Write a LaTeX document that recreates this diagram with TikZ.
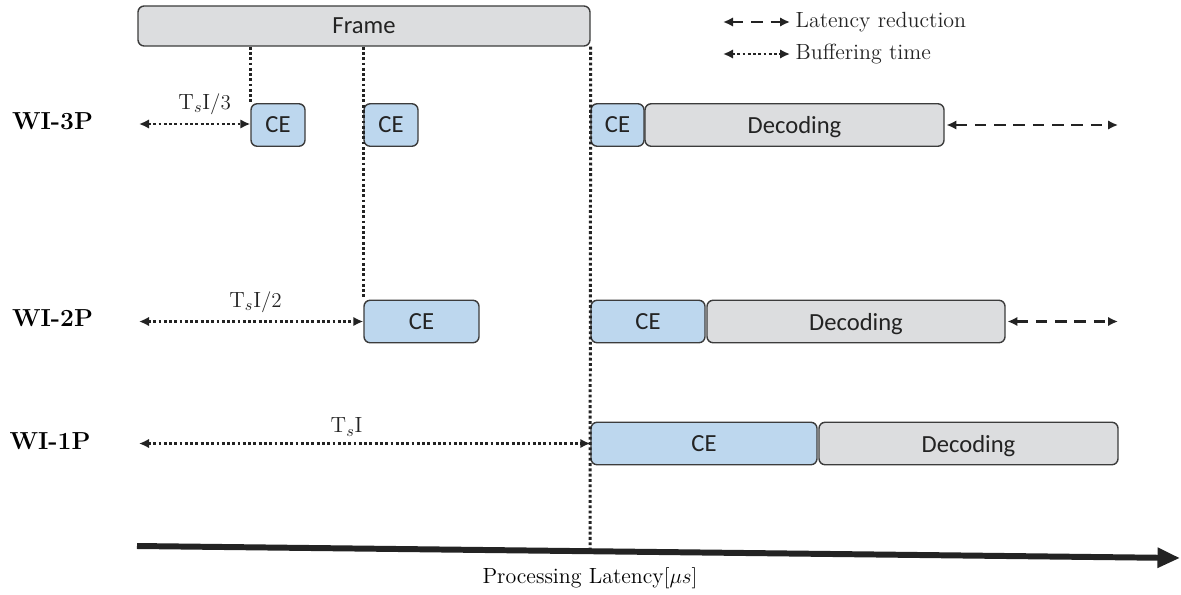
\documentclass[tikz,border=0pt]{standalone}
\usepackage{amsmath}
\usepackage{fontspec}
\newfontfamily\boxfont{Carlito}
\usetikzlibrary{arrows.meta}
\definecolor{cefill}{RGB}{189, 215, 238}
\definecolor{decfill}{RGB}{220, 221, 223}
\definecolor{edge}{RGB}{60, 60, 60}
\definecolor{ink}{RGB}{35, 35, 35}

\begin{document}
\begin{tikzpicture}[
	>={Latex[length=2mm, width=1.9mm]},
	% Styles for the processing blocks
	frameblock/.style={draw=edge, thick, fill=decfill, rounded corners=3.5pt, minimum height=0.8cm, inner sep=0pt, text depth=0pt, text=ink, font=\boxfont\fontsize{14}{16}\selectfont},
	ceblock/.style={draw=edge, thick, fill=cefill, rounded corners=3.5pt, minimum height=0.85cm, inner sep=0pt, text depth=0pt, text=ink, font=\boxfont\fontsize{14}{16}\selectfont},
	decblock/.style={ceblock, fill=decfill},
	rowlabel/.style={font=\fontsize{14}{16}\selectfont\bfseries},
	buffer/.style={<->, ink, line width=1.7pt, dash pattern=on 1.6pt off 1.4pt},
	reduction/.style={<->, ink, line width=1.7pt, dash pattern=on 6.5pt off 4.5pt},
	guide/.style={ink, line width=1.7pt, dash pattern=on 1.6pt off 1.4pt},
	latlabel/.style={font=\fontsize{12.5}{14}\selectfont}
	]
	\useasboundingbox (0,0) rectangle (23.62,11.88);
	
	% ==========================================
	% 1. FRAME AND LEGEND
	% ==========================================
	\node[frameblock, minimum width=9.04cm] (frame) at (7.28,11.36) {Frame};
	
	\coordinate (lga) at (14.46,11.44);
	\coordinate (lgb) at (15.80,11.44);
	\coordinate (lgc) at (14.46,10.80);
	\coordinate (lgd) at (15.80,10.80);
	\draw[reduction] (lga) -- (lgb) node[latlabel, right=-1pt] {Latency reduction};
	\draw[buffer] (lgc) -- (lgd) node[latlabel, right=-1pt] {Buffering time};
	
	% ==========================================
	% 2. WI-3P
	% ==========================================
	\node[rowlabel] (lbl3) at (1.05,9.46) {WI-3P};
	\node[ceblock, minimum width=1.08cm] (ce3a) at (5.56,9.38) {CE};
	\node[ceblock, minimum width=1.08cm] (ce3b) at (7.82,9.38) {CE};
	\node[ceblock, minimum width=1.06cm] (ce3c) at (12.35,9.38) {CE};
	\node[decblock, minimum width=5.98cm] (dec3) at (15.89,9.38) {Decoding};
	
	\coordinate (bf3) at (2.78,9.40);
	\coordinate (rd3) at (22.36,9.38);
	\draw[buffer] (bf3) -- (ce3a.west |- bf3) node[latlabel, above=1pt, pos=0.59] {$\mathrm{T}_s\mathrm{I}/3$};
	\draw[reduction, shorten <=1pt] (dec3.east) -- (rd3);
	
	% ==========================================
	% 3. WI-2P
	% ==========================================
	\node[rowlabel] (lbl2) at (1.05,5.52) {WI-2P};
	\node[ceblock, minimum width=2.30cm] (ce2a) at (8.43,5.45) {CE};
	\node[ceblock, minimum width=2.28cm] (ce2b) at (12.96,5.45) {CE};
	\node[decblock, minimum width=5.96cm] (dec2) at (17.12,5.45) {Decoding};
	
	\coordinate (bf2) at (2.78,5.45);
	\coordinate (rd2) at (22.36,5.45);
	\draw[buffer] (bf2) -- (ce2a.west) node[latlabel, above=1pt, pos=0.52] {$\mathrm{T}_s\mathrm{I}/2$};
	\draw[reduction, shorten <=1pt] (dec2.east) -- (rd2);
	
	% ==========================================
	% 4. WI-1P
	% ==========================================
	\node[rowlabel] (lbl1) at (1.00,3.06) {WI-1P};
	\node[ceblock, minimum width=4.52cm] (ce1a) at (14.08,3.01) {CE};
	\node[decblock, minimum width=5.98cm] (dec1) at (19.37,3.01) {Decoding};
	
	\coordinate (bf1) at (2.78,3.01);
	\draw[buffer] (bf1) -- (ce1a.west) node[latlabel, above=0pt, pos=0.46] {$\mathrm{T}_s\mathrm{I}$};
	
	% ==========================================
	% 5. TIME AXIS AND FRAME GUIDES
	% ==========================================
	\coordinate (axl) at (2.74,0.96);
	\coordinate (axr) at (23.60,0.72);
	\coordinate (tick) at (11.80,0.90);
	\draw[line width=3.4pt, ink, -{Triangle[length=0.45cm, width=0.38cm]}] (axl) -- (axr);
	\node[latlabel] (axlbl) at (11.80,0.32) {Processing Latency$[\mu s]$};
	
	\draw[guide] (ce3a.north west |- frame.south) -- (ce3a.north west);
	\draw[guide] (ce2a.north west |- frame.south) -- (ce2a.north west);
	\draw[guide] (frame.south east) -- (tick);
\end{tikzpicture}
\end{document}
